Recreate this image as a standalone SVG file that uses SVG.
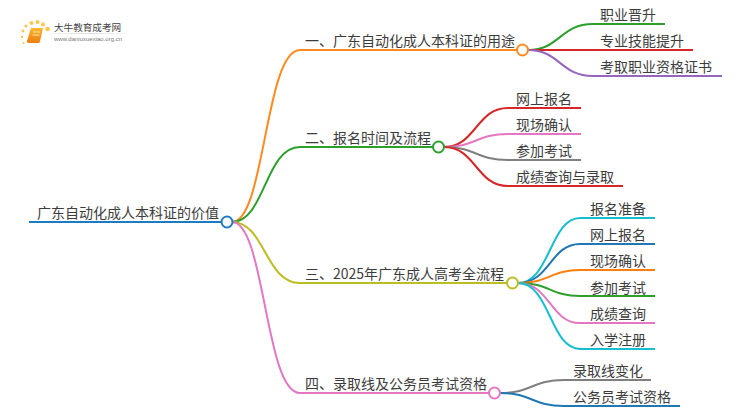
<svg xmlns="http://www.w3.org/2000/svg" width="750" height="410" viewBox="0 0 750 410">
<defs>
<linearGradient id="book" x1="0" y1="0" x2="0" y2="1"><stop offset="0" stop-color="#fbb62e"/><stop offset="1" stop-color="#ee7d10"/></linearGradient>
<linearGradient id="rule" x1="0" y1="0" x2="1" y2="0"><stop offset="0" stop-color="#ddd" stop-opacity="0.2"/><stop offset="0.5" stop-color="#ddd"/><stop offset="1" stop-color="#ddd" stop-opacity="0"/></linearGradient>
</defs>
<style>
text{font-family:"Noto Sans CJK SC","Liberation Sans",sans-serif;font-size:14px;fill:#3c3c3c}
.c{fill:none;stroke-width:2}
.n{fill:#fff;stroke-width:2}
.d{fill:#fbc64b}
</style>
<rect width="750" height="410" fill="#fff"/>
<g id="logo">
<circle class="d" cx="47.500" cy="29" r="2.300"/><circle class="d" cx="43" cy="24.500" r="2"/>
<circle class="d" cx="37.500" cy="22" r="2"/><circle class="d" cx="31.500" cy="23" r="2"/><circle class="d" cx="26" cy="26" r="1.600"/><circle class="d" cx="23" cy="31" r="1.400"/><circle class="d" cx="22" cy="37" r="1.200"/><circle class="d" cx="23.500" cy="43" r="1"/>
<path d="M31 28h12l-3 13.500q-.5 1.500-2 1.500H28.500q-2 0-1.500-2z" fill="url(#book)"/>
<path d="M33 32h7M32.500 35h7" stroke="#fde3a8" stroke-width="1" fill="none"/>
<text x="54" y="31" style="font-size:9.600px;fill:#444">大牛教育成考网</text>
<rect x="45" y="33" width="88" height="1" fill="url(#rule)"/>
<text x="54" y="41" style="font-size:6px;fill:#777;font-family:'Liberation Sans',sans-serif">www.daniuxuexiao.org.cn</text>
</g>
<g id="connectors">
<path class="c" stroke="#1f7bbf" d="M29 222H222"/>
<path class="c" stroke="#ff8a1f" d="M232 222C265 222 265 50 300 50H517"/>
<path class="c" stroke="#2ca02c" d="M232 222C265 222 265 147 300 147H433"/>
<path class="c" stroke="#bcbd22" d="M232 222C265 222 265 283 300 283H507"/>
<path class="c" stroke="#e377c2" d="M232 222C265 222 265 393 300 393H489"/>
<path class="c" stroke="#2ca02c" d="M528 50C560 50 560 24 593 24H665"/>
<path class="c" stroke="#d62728" d="M528 50H693"/>
<path class="c" stroke="#9467bd" d="M528 50C560 50 560 76 593 76H722"/>
<path class="c" stroke="#d62728" d="M444 147C476 147 476 108 508 108H581"/>
<path class="c" stroke="#e377c2" d="M444 147C476 147 476 134 508 134H581"/>
<path class="c" stroke="#7f7f7f" d="M444 147C476 147 476 160 508 160H581"/>
<path class="c" stroke="#d62728" d="M444 147C476 147 476 186 508 186H623"/>
<path class="c" stroke="#17becf" d="M518 283C550 283 550 218 580 218H655"/>
<path class="c" stroke="#1f77b4" d="M518 283C550 283 550 244 580 244H655"/>
<path class="c" stroke="#ff7f0e" d="M518 283C550 283 550 270 580 270H655"/>
<path class="c" stroke="#2ca02c" d="M518 283C550 283 550 296 580 296H655"/>
<path class="c" stroke="#e377c2" d="M518 283C550 283 550 323 580 323H655"/>
<path class="c" stroke="#17becf" d="M518 283C550 283 550 349 580 349H655"/>
<path class="c" stroke="#7f7f7f" d="M500 393C532 393 532 380 564 380H651"/>
<path class="c" stroke="#1f77b4" d="M500 393C532 393 532 406 564 406H680"/>
</g>
<g id="root"><circle class="n" stroke="#1f7bbf" cx="227" cy="222" r="5.500"/><text x="37" y="218">广东自动化成人本科证的价值</text></g>
<g id="b1"><circle class="n" stroke="#ff8a1f" cx="522.500" cy="50" r="5.500"/><text x="305" y="46">一、广东自动化成人本科证的用途</text></g>
<g id="b2"><circle class="n" stroke="#2ca02c" cx="438.500" cy="147" r="5.500"/><text x="305" y="143">二、报名时间及流程</text></g>
<g id="b3"><circle class="n" stroke="#bcbd22" cx="512.500" cy="283" r="5.500"/><text x="305" y="279">三、2025年广东成人高考全流程</text></g>
<g id="b4"><circle class="n" stroke="#e377c2" cx="494.500" cy="393" r="5.500"/><text x="305" y="389">四、录取线及公务员考试资格</text></g>
<g id="b1-1"><text x="600" y="20">职业晋升</text></g>
<g id="b1-2"><text x="600" y="46">专业技能提升</text></g>
<g id="b1-3"><text x="600" y="72">考取职业资格证书</text></g>
<g id="b2-1"><text x="516" y="104">网上报名</text></g>
<g id="b2-2"><text x="516" y="130">现场确认</text></g>
<g id="b2-3"><text x="516" y="156">参加考试</text></g>
<g id="b2-4"><text x="516" y="182">成绩查询与录取</text></g>
<g id="b3-1"><text x="590" y="214">报名准备</text></g>
<g id="b3-2"><text x="590" y="240">网上报名</text></g>
<g id="b3-3"><text x="590" y="266">现场确认</text></g>
<g id="b3-4"><text x="590" y="293">参加考试</text></g>
<g id="b3-5"><text x="590" y="319">成绩查询</text></g>
<g id="b3-6"><text x="590" y="345">入学注册</text></g>
<g id="b4-1"><text x="573" y="376">录取线变化</text></g>
<g id="b4-2"><text x="573" y="402">公务员考试资格</text></g>
</svg>
